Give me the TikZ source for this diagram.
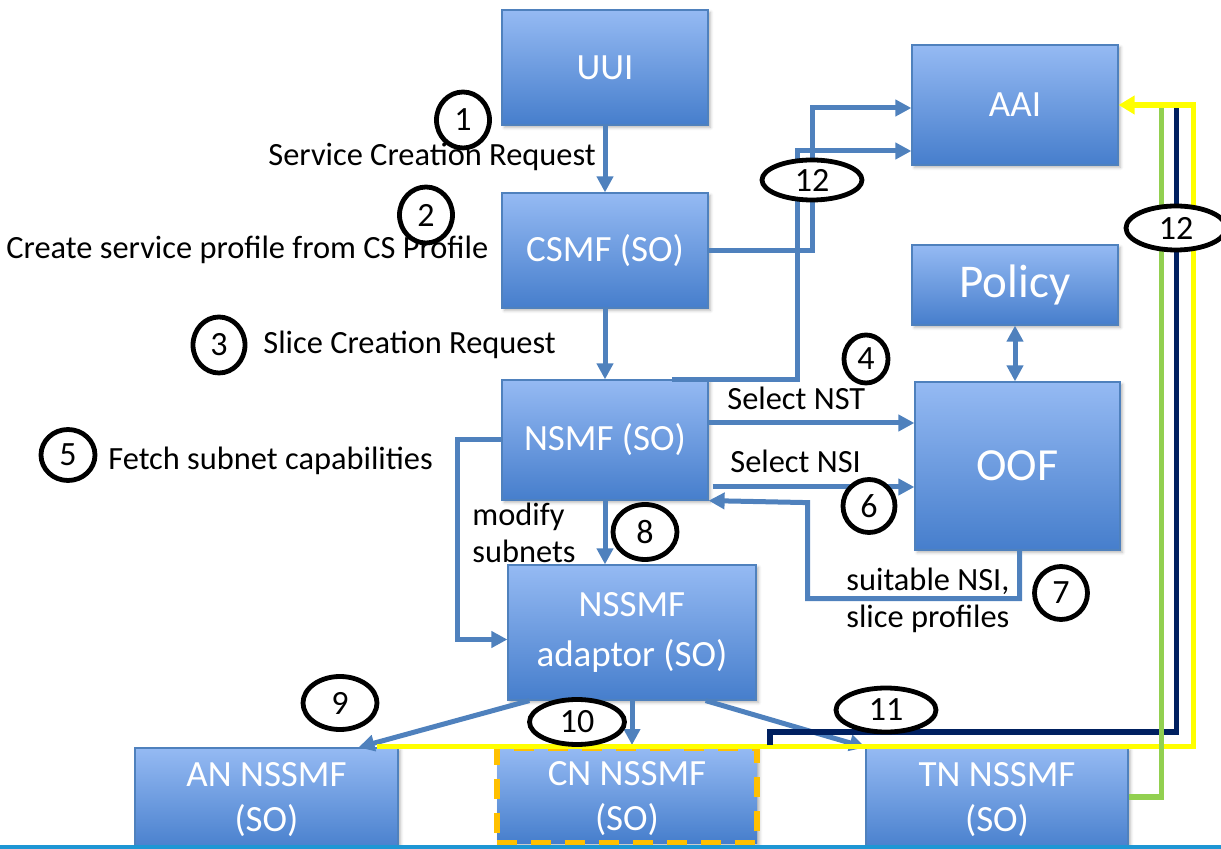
\documentclass[tikz,border=0pt]{standalone}
\usepackage{fontspec}
\setmainfont{Carlito}
\usepackage{tikz}
\usetikzlibrary{arrows.meta}
\usetikzlibrary{shapes.geometric,shadows.blur}

\definecolor{boxtop}{RGB}{149,186,243}
\definecolor{boxbot}{RGB}{70,126,204}
\definecolor{boxedge}{RGB}{79,129,189}
\definecolor{flowblue}{RGB}{79,129,189}
\definecolor{linkyellow}{RGB}{255,255,0}
\definecolor{linknavy}{RGB}{0,32,96}
\definecolor{linkgreen}{RGB}{146,208,80}
\definecolor{cnorange}{RGB}{255,192,0}
\definecolor{baseblue}{RGB}{30,150,212}

\begin{document}
\begin{tikzpicture}[x=0.5pt, y=-0.5pt,
		block/.style = {draw=boxedge, line width=0.6pt, top color=boxtop, bottom color=boxbot,
				text=white, align=center, inner sep=0pt, font=\fontsize{18.5}{22.5}\selectfont,
				blur shadow={shadow xshift=1.2pt, shadow yshift=-1.2pt, shadow blur radius=1.5pt, shadow opacity=30}},
		num/.style = {ellipse, draw=black, line width=2.4pt, inner sep=0pt, font=\fontsize{17}{20}\selectfont},
		lbl/.style = {anchor=west, inner sep=0pt, align=left, font=\fontsize{16.2}{18.5}\selectfont},
		flow/.style = {draw=flowblue, line width=2.5pt, -{Triangle[length=8pt, width=8pt]}},
		dflow/.style = {flow, {Triangle[length=8pt, width=8pt]}-{Triangle[length=8pt, width=8pt]}},
		link/.style = {line width=2.6pt}
	]
	\useasboundingbox (0,0) rectangle (1221,849);

	% boxes
	\node [block, minimum width=103pt, minimum height=57.5pt] (uui) at (605,67.5) {UUI};
	\node [block, minimum width=103pt, minimum height=60pt] (aai) at (1015,105) {AAI};
	\node [block, minimum width=103pt, minimum height=57.5pt] (csmf) at (605,250.5) {CSMF (SO)};
	\node [block, minimum width=103pt, minimum height=40pt, font=\fontsize{23.5}{28}\selectfont] (policy) at (1015,285) {Policy};
	\node [block, minimum width=103pt, minimum height=60pt] (nsmf) at (605,440) {NSMF (SO)};
	\node [block, minimum width=102.5pt, minimum height=84pt, font=\fontsize{23}{28}\selectfont] (oof) at (1017.5,466) {OOF};
	\node [block, minimum width=124pt, minimum height=67.5pt, font=\fontsize{18.5}{25}\selectfont] (nssmf) at (632,632.5) {NSSMF\\adaptor (SO)};
	\node [block, minimum width=131.5pt, minimum height=52pt] (an) at (266.5,800) {AN NSSMF\\(SO)};
	\node [block, draw=cnorange, line width=3pt, dash pattern=on 10pt off 7pt, minimum width=130pt, minimum height=47.5pt, text depth=-4pt] (cn) at (627,795.5) {CN NSSMF\\(SO)};
	\node [block, minimum width=131pt, minimum height=52pt] (tn) at (997,800) {TN NSSMF\\(SO)};

	\fill [baseblue] (0,845) rectangle (1221,849);

	% flows
	\draw [flow] (uui.south) -- (csmf.north);
	\draw [flow] (csmf.south) -- (nsmf.north);
	\draw [flow] (csmf.east) -- ++(104,0) |- ([yshift=-1.5pt]aai.west);
	\draw [flow] ([xshift=33.5pt]nsmf.north) -- ++(125,0) |- ([yshift=-23pt]aai.west);
	\draw [flow] ([yshift=8.5pt]nsmf.east) coordinate (nst) -- (nst -| oof.west);
	\draw [flow] ([xshift=2pt, yshift=-23.5pt]nsmf.east) coordinate (nsi) -- (nsi -| oof.west);
	\draw [flow] ([xshift=1pt]oof.south) -- ++(0,48) -| ++(-212,-96) -- (nsmf.south east);
	\draw [dflow] (policy.south) -- (policy.south |- oof.north);
	\draw [flow] (nsmf.south) -- (nsmf.south |- nssmf.north);
	\draw [flow] (nsmf.west) -- ++(-44,0) |- ([yshift=-3.5pt]nssmf.west);
	\draw [flow] ([xshift=11pt]nssmf.south west) -- ([xshift=46pt]an.north);
	\draw [flow] (nssmf.south) -- (nssmf.south |- cn.north);
	\draw [flow] ([xshift=-25.5pt]nssmf.south east) -- (tn.north west);

	% links back to AAI
	\draw [link, linkyellow, -{Triangle[length=8pt, width=9pt]}] ([xshift=-11pt, yshift=0.5pt]an.north east) -- ++(817,0) |- (aai.east);
	\draw [link, linknavy] ([xshift=5pt]cn.north east) -- ++(0,-13) -| ([xshift=29pt, yshift=-1.5pt]aai.east);
	\draw [link, linkgreen] ([yshift=1.5pt]tn.east) -| ([xshift=21.5pt, yshift=-1.5pt]aai.east);

	% step numbers
	\node [num, minimum width=26.5pt, minimum height=28pt] (n1) at (463,120) {1};
	\node [num, minimum width=26.5pt, minimum height=28pt] (n2) at (426,215) {2};
	\node [num, minimum width=26pt, minimum height=28pt] (n3) at (219,345) {3};
	\node [num, minimum width=22pt, minimum height=24pt] (n4) at (866,359) {4};
	\node [num, minimum width=27pt, minimum height=25.5pt] (n5) at (68,455) {5};
	\node [num, fill=white, minimum width=26pt, minimum height=26.5pt] (n6) at (869,506) {6};
	\node [num, fill=white, minimum width=26.5pt, minimum height=26.5pt] (n7) at (1061,593) {7};
	\node [num, fill=white, minimum width=32pt, minimum height=27.5pt] (n8) at (645,532) {8};
	\node [num, fill=white, minimum width=37pt, minimum height=26.5pt] (n9) at (340,703) {9};
	\node [num, fill=white, minimum width=47.5pt, minimum height=22.5pt] (n10) at (577,722) {10};
	\node [num, fill=white, minimum width=50pt, minimum height=22pt] (n11) at (886,710) {11};
	\node [num, fill=white, minimum width=50pt, minimum height=20pt] (n12a) at (812,180) {12};
	\node [num, fill=white, minimum width=50pt, minimum height=22pt] (n12b) at (1176,228) {12};

	% labels
	\node [lbl] (l1) at (268,157) {Service Creation Request};
	\node [lbl] (l2) at (6,250) {Create service profile from CS Profile};
	\node [lbl] (l3) at (263,345) {Slice Creation Request};
	\node [lbl] (l4) at (727,398) {Select NST};
	\node [lbl] (l5) at (108,461) {Fetch subnet capabilities};
	\node [lbl] (l6) at (730,461) {Select NSI};
	\node [lbl] (l7) at (846,600) {suitable NSI,\\slice profiles};
	\node [lbl] (l8) at (472,533) {modify\\subnets};
\end{tikzpicture}
\end{document}
